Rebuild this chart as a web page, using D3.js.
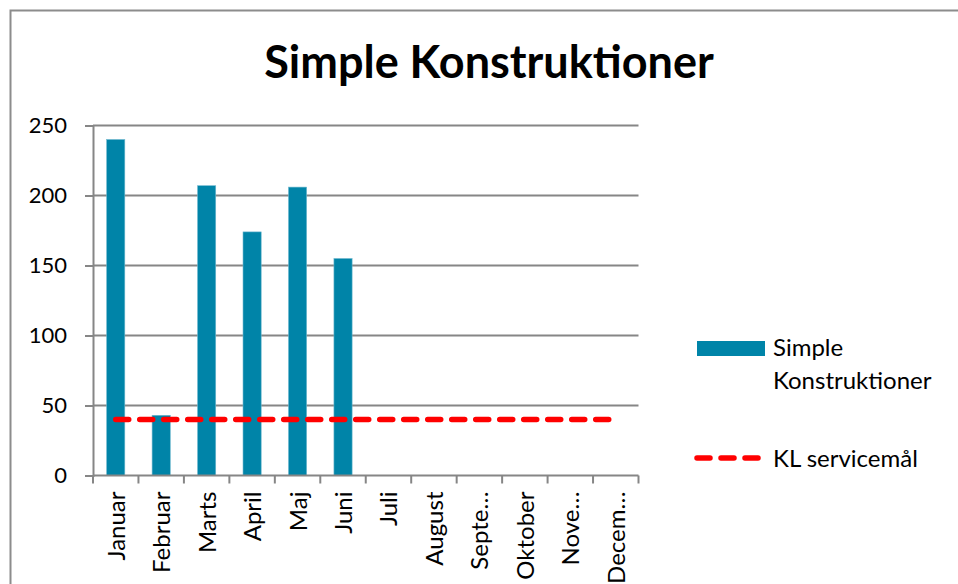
<!DOCTYPE html>
<html>
<head>
<meta charset="utf-8">
<script src="https://cdn.jsdelivr.net/npm/d3@7/dist/d3.min.js"></script>
<style>
  body { margin: 0; background: #fff; }
  svg { display: block; font-family: Lato, "Open Sans", sans-serif; }
  .axis path, .axis line { stroke: #868686; }
  .axis text { fill: #000; font-family: Lato, "Open Sans", sans-serif; }
  .axis--y text { font-size: 22px; }
  .axis--x text { font-size: 24px; }
</style>
</head>
<body>
<svg width="958" height="584"></svg>
<script>
    // data
    var months = ["Januar", "Februar", "Marts", "April", "Maj", "Juni",
                  "Juli", "August", "September", "Oktober", "November", "December"];
    var monthLabels = ["Januar", "Februar", "Marts", "April", "Maj", "Juni",
                       "Juli", "August", "Septe\u2026", "Oktober", "Nove\u2026", "Decem\u2026"];
    var simple = [240, 43, 207, 174, 206, 155, null, null, null, null, null, null];
    var target = [40, 40, 40, 40, 40, 40, 40, 40, 40, 40, 40, 40];
    var yTicks = [0, 50, 100, 150, 200, 250];

    var svg = d3.select("svg"),
        margin = {top: 125.5, left: 93, right: 319.5, bottom: 108.5},
        width = +svg.attr("width") - margin.left - margin.right,
        height = +svg.attr("height") - margin.top - margin.bottom;

    // outer chart border (right and bottom edges fall outside the picture)
    svg.append("rect")
        .attr("x", 10.5).attr("y", 10.5)
        .attr("width", 1000).attr("height", 1000)
        .attr("fill", "none")
        .attr("stroke", "#8c8c8c")
        .attr("stroke-width", 2);

    svg.append("text")
        .attr("x", 489)
        .attr("y", 78)
        .attr("text-anchor", "middle")
        .style("font-size", "45px")
        .style("font-weight", "bold")
        .text("Simple Konstruktioner");

    var g = svg.append("g").attr("transform", "translate(" + margin.left + "," + margin.top + ")");

    var x = d3.scaleBand()
        .domain(months)
        .range([0, width])
        .paddingInner(0.6)
        .paddingOuter(0.3);

    var xc = d3.scaleBand().domain(months).range([0, width]);

    var y = d3.scaleLinear()
        .domain([0, 250])
        .range([height, 0]);

    // gridlines + y axis
    var yAxis = g.append("g")
        .attr("class", "axis axis--y")
        .call(d3.axisLeft(y).tickValues(yTicks).tickSize(8).tickPadding(18));
    yAxis.select(".domain").attr("stroke-width", 2);
    yAxis.selectAll(".tick line").attr("stroke-width", 2);

    g.append("g")
        .selectAll("line")
        .data(yTicks.filter(function(d) { return d > 0; }))
        .enter().append("line")
        .attr("x1", 0).attr("x2", width)
        .attr("y1", function(d) { return y(d); })
        .attr("y2", function(d) { return y(d); })
        .attr("stroke", "#868686")
        .attr("stroke-width", 2);

    // bars
    var data = months.map(function(m, i) { return {month: m, value: simple[i], target: target[i]}; });

    g.selectAll(".bar")
        .data(data.filter(function(d) { return d.value !== null; }))
        .enter().append("rect")
        .attr("class", "bar")
        .attr("x", function(d) { return x(d.month); })
        .attr("width", x.bandwidth())
        .attr("y", function(d) { return y(d.value); })
        .attr("height", function(d) { return height - y(d.value); })
        .attr("fill", "#0084a8")
        .attr("stroke", "#6fb8cf")
        .attr("stroke-width", 0.6);

    // x axis with ticks at category boundaries
    var xAxis = g.append("g")
        .attr("class", "axis axis--x")
        .attr("transform", "translate(0," + height + ")");
    xAxis.append("line")
        .attr("x1", 0).attr("x2", width)
        .attr("stroke", "#868686").attr("stroke-width", 2);
    xAxis.selectAll(".xtick")
        .data(months.concat(["end"]))
        .enter().append("line")
        .attr("class", "xtick")
        .attr("x1", function(d, i) { return i * xc.bandwidth(); })
        .attr("x2", function(d, i) { return i * xc.bandwidth(); })
        .attr("y1", 0).attr("y2", 8)
        .attr("stroke", "#868686").attr("stroke-width", 2);
    xAxis.selectAll(".xlabel")
        .data(months)
        .enter().append("text")
        .attr("class", "xlabel")
        .attr("transform", function(d) {
            return "translate(" + (xc(d) + xc.bandwidth() / 2 + 9) + ",16) rotate(-90)";
        })
        .attr("text-anchor", "end")
        .text(function(d, i) { return monthLabels[i]; });

    // target line
    var line = d3.line()
        .x(function(d) { return xc(d.month) + xc.bandwidth() / 2; })
        .y(function(d) { return y(d.target); });

    g.append("path")
        .datum(data)
        .attr("d", line)
        .attr("fill", "none")
        .attr("stroke", "#ff0000")
        .attr("stroke-width", 5.5)
        .attr("stroke-linecap", "round")
        .attr("stroke-dasharray", "13,11");

    // legend
    var legend = svg.append("g").style("font-size", "24px");
    legend.append("rect")
        .attr("x", 697).attr("y", 341)
        .attr("width", 68).attr("height", 15)
        .attr("fill", "#0084a8");
    legend.append("text")
        .attr("x", 773).attr("y", 356)
        .text("Simple");
    legend.append("text")
        .attr("x", 773).attr("y", 389)
        .text("Konstruktioner");
    legend.append("line")
        .attr("x1", 697).attr("x2", 758)
        .attr("y1", 458).attr("y2", 458)
        .attr("stroke", "#ff0000")
        .attr("stroke-width", 5.5)
        .attr("stroke-linecap", "round")
        .attr("stroke-dasharray", "13,11");
    legend.append("text")
        .attr("x", 773).attr("y", 467)
        .text("KL servicemål");
</script>
</body>
</html>
